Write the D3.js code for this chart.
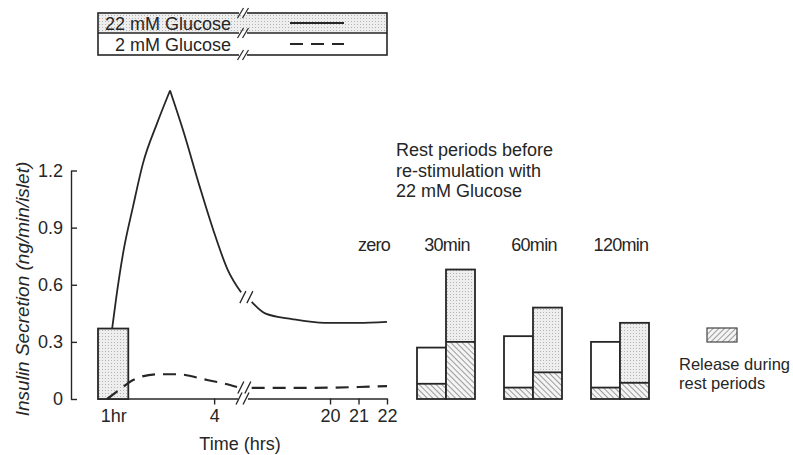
<!DOCTYPE html>
<html><head><meta charset="utf-8">
<script src="https://cdn.jsdelivr.net/npm/d3@7"></script>
<style>
body{margin:0;background:#fff}
text{font-family:"Liberation Sans",Arial,sans-serif;fill:#262626}
</style>
</head><body>
<svg id="c" width="793" height="455"></svg>
<script>
// ---------- data ----------
const yTicks = [0, 0.3, 0.6, 0.9, 1.2];
const yTickLabels = ["0", "0.3", "0.6", "0.9", "1.2"];
const timeTicksLeft = [1, 4];
const timeTicksRight = [20, 21, 22];
const timeTickLabels = {1: "1hr", 4: "4", 20: "20", 21: "21", 22: "22"};
const legendLabels = ["22 mM Glucose", "2 mM Glucose"];
// 22 mM glucose (solid): [hours, ng/min/islet]
const g22Rise  = [[0.97,0.37],[1.09,0.53],[1.30,0.77],[1.59,1.01],[1.89,1.24],[2.31,1.45],[2.69,1.62]];
const g22Fall  = [[2.69,1.62],[3.08,1.41],[3.58,1.11],[3.97,0.89],[4.40,0.68],[4.80,0.56]];
const g22Late  = [[17.25,0.51],[17.72,0.45],[18.67,0.42],[19.82,0.40],[20.98,0.40],[22.0,0.405]];
// 2 mM glucose (dashed)
const g2Early  = [[0.82,0.0],[1.20,0.05],[1.59,0.10],[2.31,0.13],[2.90,0.13],[3.79,0.10],[4.32,0.08],[4.68,0.063]];
const g2Late   = [[17.25,0.058],[19.0,0.058],[21.0,0.063],[22.0,0.068]];
// first-hour release (shaded box)
const firstHour = {start: 0.55, end: 1.45, value: 0.37};
// rest-period experiment
const restGroups  = ["zero", "30min", "60min", "120min"];
const basalTotal  = [0, 0.27, 0.33, 0.30];
const basalRest   = [0, 0.08, 0.06, 0.06];
const stimTotal   = [0, 0.68, 0.48, 0.40];
const stimRest    = [0, 0.30, 0.14, 0.085];
const annotation  = ["Rest periods before", "re-stimulation with", "22 mM Glucose"];
const restLegend  = ["Release during", "rest periods"];

// ---------- setup ----------
const svg = d3.select("#c");
const ink = "#262626";
const defs = svg.append("defs");
const stip = defs.append("pattern").attr("id","stip").attr("width",3).attr("height",3)
  .attr("patternUnits","userSpaceOnUse");
stip.append("rect").attr("width",3).attr("height",3).attr("fill","#eeeeee");
stip.append("rect").attr("width",1).attr("height",1).attr("fill","#b5b5b5");
function hatch(id, ang){
  const p = defs.append("pattern").attr("id",id).attr("width",4).attr("height",4)
    .attr("patternUnits","userSpaceOnUse").attr("patternTransform","rotate("+ang+")");
  p.append("rect").attr("width",4).attr("height",4).attr("fill","#f4f4f4");
  p.append("line").attr("x1",0).attr("y1",0).attr("x2",0).attr("y2",4)
    .attr("stroke","#555").attr("stroke-width",1.1);
}
hatch("hatchB",-45);
hatch("hatchL",45);

const y = d3.scaleLinear().domain([0,1.2]).range([399,170.5]);
const xL = d3.scaleLinear().domain([0.55,4.7]).range([98,237.7]);
const xR = d3.scaleLinear().domain([17.1,22]).range([247.4,387]);
const xt = h => h < 10 ? xL(h) : xR(h);
const FS = 18;

// ---------- y axis ----------
const yAx = svg.append("g").attr("transform","translate(71,0)")
  .call(d3.axisLeft(y).tickValues(yTicks).tickSize(-6).tickSizeOuter(0).tickPadding(8)
    .tickFormat((d,i)=>yTickLabels[i]));
yAx.selectAll("path,line").attr("stroke",ink).attr("stroke-width",1.4);
yAx.selectAll("text").attr("font-size",FS).attr("font-family","Liberation Sans").attr("fill","#333");

svg.append("text").attr("transform","translate(29,289) rotate(-90)")
  .attr("text-anchor","middle").attr("font-size",19).attr("font-style","italic")
  .attr("fill","#333").text("Insulin Secretion (ng/min/islet)");

// ---------- x axis (broken) ----------
function styleX(g){
  g.selectAll("path,line").attr("stroke",ink).attr("stroke-width",1.4);
  g.selectAll("text").attr("font-size",FS).attr("font-family","Liberation Sans").attr("fill","#333");
}
const xa1 = svg.append("g").attr("transform","translate(0,398.5)")
  .call(d3.axisBottom(xL).tickValues(timeTicksLeft).tickSize(6).tickSizeOuter(0).tickPadding(5)
    .tickFormat(d=>timeTickLabels[d]));
styleX(xa1);
xa1.selectAll(".tick").filter(d=>d===1).select("line").remove();
const xa2 = svg.append("g").attr("transform","translate(0,398.5)")
  .call(d3.axisBottom(xR).tickValues(timeTicksRight).tickSize(6).tickSizeOuter(0).tickPadding(5)
    .tickFormat(d=>timeTickLabels[d]));
styleX(xa2);
svg.append("text").attr("x",240).attr("y",450).attr("text-anchor","middle")
  .attr("font-size",FS).attr("fill","#333").text("Time (hrs)");

function breakMarks(cx, cy){
  [-3.5, 3.5].forEach(o=>{
    svg.append("line").attr("x1",cx+o-3).attr("y1",cy+6).attr("x2",cx+o+3).attr("y2",cy-6)
      .attr("stroke",ink).attr("stroke-width",1.3);
  });
}
breakMarks((xL.range()[1]+xR.range()[0])/2, 398.5);

// ---------- first hour box ----------
svg.append("rect").attr("x",xL(firstHour.start)).attr("y",y(firstHour.value))
  .attr("width",xL(firstHour.end)-xL(firstHour.start)).attr("height",y(0)-y(firstHour.value))
  .attr("fill","url(#stip)").attr("stroke",ink).attr("stroke-width",1.8);

// ---------- curves ----------
const line = d3.line().x(d=>xt(d[0])).y(d=>y(d[1])).curve(d3.curveMonotoneX);
[g22Rise,g22Fall,g22Late].forEach(s=>{
  svg.append("path").attr("d",line(s)).attr("fill","none").attr("stroke",ink).attr("stroke-width",1.8);
});
[g2Early,g2Late].forEach(s=>{
  svg.append("path").attr("d",line(s)).attr("fill","none").attr("stroke",ink)
    .attr("stroke-width",2.2).attr("stroke-dasharray","13,8");
});
function midBreak(a,b){
  const p=a[a.length-1], q=b[0];
  breakMarks((xt(p[0])+xt(q[0]))/2, (y(p[1])+y(q[1]))/2);
}
midBreak(g22Fall,g22Late);
midBreak(g2Early,g2Late);

// ---------- top legend ----------
const lg = svg.append("g");
const lx0 = 98, lx1 = 387, ly = [13,33,55];
lg.append("rect").attr("x",lx0).attr("y",ly[0]).attr("width",lx1-lx0).attr("height",ly[1]-ly[0])
  .attr("fill","url(#stip)");
lg.append("rect").attr("x",lx0).attr("y",ly[0]).attr("width",lx1-lx0).attr("height",ly[2]-ly[0])
  .attr("fill","none").attr("stroke",ink).attr("stroke-width",1.6);
lg.append("line").attr("x1",lx0).attr("x2",lx1).attr("y1",ly[1]).attr("y2",ly[1])
  .attr("stroke",ink).attr("stroke-width",1.6);
ly.forEach(v=>{
  lg.append("rect").attr("x",239).attr("y",v-2).attr("width",8).attr("height",4).attr("fill","#fff");
  [-2.5,2.5].forEach(o=>{
    lg.append("line").attr("x1",243+o-3).attr("y1",v+5).attr("x2",243+o+3).attr("y2",v-5)
      .attr("stroke",ink).attr("stroke-width",1.2);
  });
});
legendLabels.forEach((t,i)=>{
  lg.append("text").attr("x",231).attr("y",(ly[i]+ly[i+1])/2+6.5).attr("text-anchor","end")
    .attr("font-size",FS).text(t);
  lg.append("line").attr("x1",290).attr("x2",344).attr("y1",(ly[i]+ly[i+1])/2).attr("y2",(ly[i]+ly[i+1])/2)
    .attr("stroke",ink).attr("stroke-width",i?2.2:1.8).attr("stroke-dasharray",i?"13,8":null);
});

// ---------- annotation ----------
annotation.forEach((t,i)=>{
  svg.append("text").attr("x",396).attr("y",156+i*20.5).attr("font-size",FS).text(t);
});

// ---------- rest-period bars ----------
const gx = d3.scalePoint().domain(restGroups).range([359,620]);
const bw = 29;
restGroups.forEach((g,i)=>{
  const cx = gx(g);
  svg.append("text").attr("x", i===0 ? cx+15 : cx+1).attr("y",251).attr("text-anchor","middle")
    .attr("font-size",FS).attr("letter-spacing",-0.7).text(g);
  if (stimTotal[i] <= 0) return;
  // basal (white) bar
  svg.append("rect").attr("x",cx-bw).attr("y",y(basalRest[i])).attr("width",bw)
    .attr("height",y(0)-y(basalRest[i])).attr("fill","url(#hatchB)");
  svg.append("rect").attr("x",cx-bw).attr("y",y(basalTotal[i])).attr("width",bw)
    .attr("height",y(basalRest[i])-y(basalTotal[i])).attr("fill","#fff");
  svg.append("line").attr("x1",cx-bw).attr("x2",cx).attr("y1",y(basalRest[i])).attr("y2",y(basalRest[i]))
    .attr("stroke",ink).attr("stroke-width",1.8);
  svg.append("rect").attr("x",cx-bw).attr("y",y(basalTotal[i])).attr("width",bw)
    .attr("height",y(0)-y(basalTotal[i])).attr("fill","none").attr("stroke",ink).attr("stroke-width",1.8);
  // stimulated (stippled) bar
  svg.append("rect").attr("x",cx).attr("y",y(stimRest[i])).attr("width",bw)
    .attr("height",y(0)-y(stimRest[i])).attr("fill","url(#hatchB)");
  svg.append("rect").attr("x",cx).attr("y",y(stimTotal[i])).attr("width",bw)
    .attr("height",y(stimRest[i])-y(stimTotal[i])).attr("fill","url(#stip)");
  svg.append("line").attr("x1",cx).attr("x2",cx+bw).attr("y1",y(stimRest[i])).attr("y2",y(stimRest[i]))
    .attr("stroke",ink).attr("stroke-width",1.8);
  svg.append("rect").attr("x",cx).attr("y",y(stimTotal[i])).attr("width",bw)
    .attr("height",y(0)-y(stimTotal[i])).attr("fill","none").attr("stroke",ink).attr("stroke-width",1.8);
});

// ---------- rest legend ----------
svg.append("rect").attr("x",707).attr("y",328).attr("width",30).attr("height",14)
  .attr("fill","url(#hatchL)").attr("stroke","#444").attr("stroke-width",1.2);
restLegend.forEach((t,i)=>{
  svg.append("text").attr("x",679).attr("y",370+i*19).attr("font-size",16.5).text(t);
});
</script>
</body></html>
